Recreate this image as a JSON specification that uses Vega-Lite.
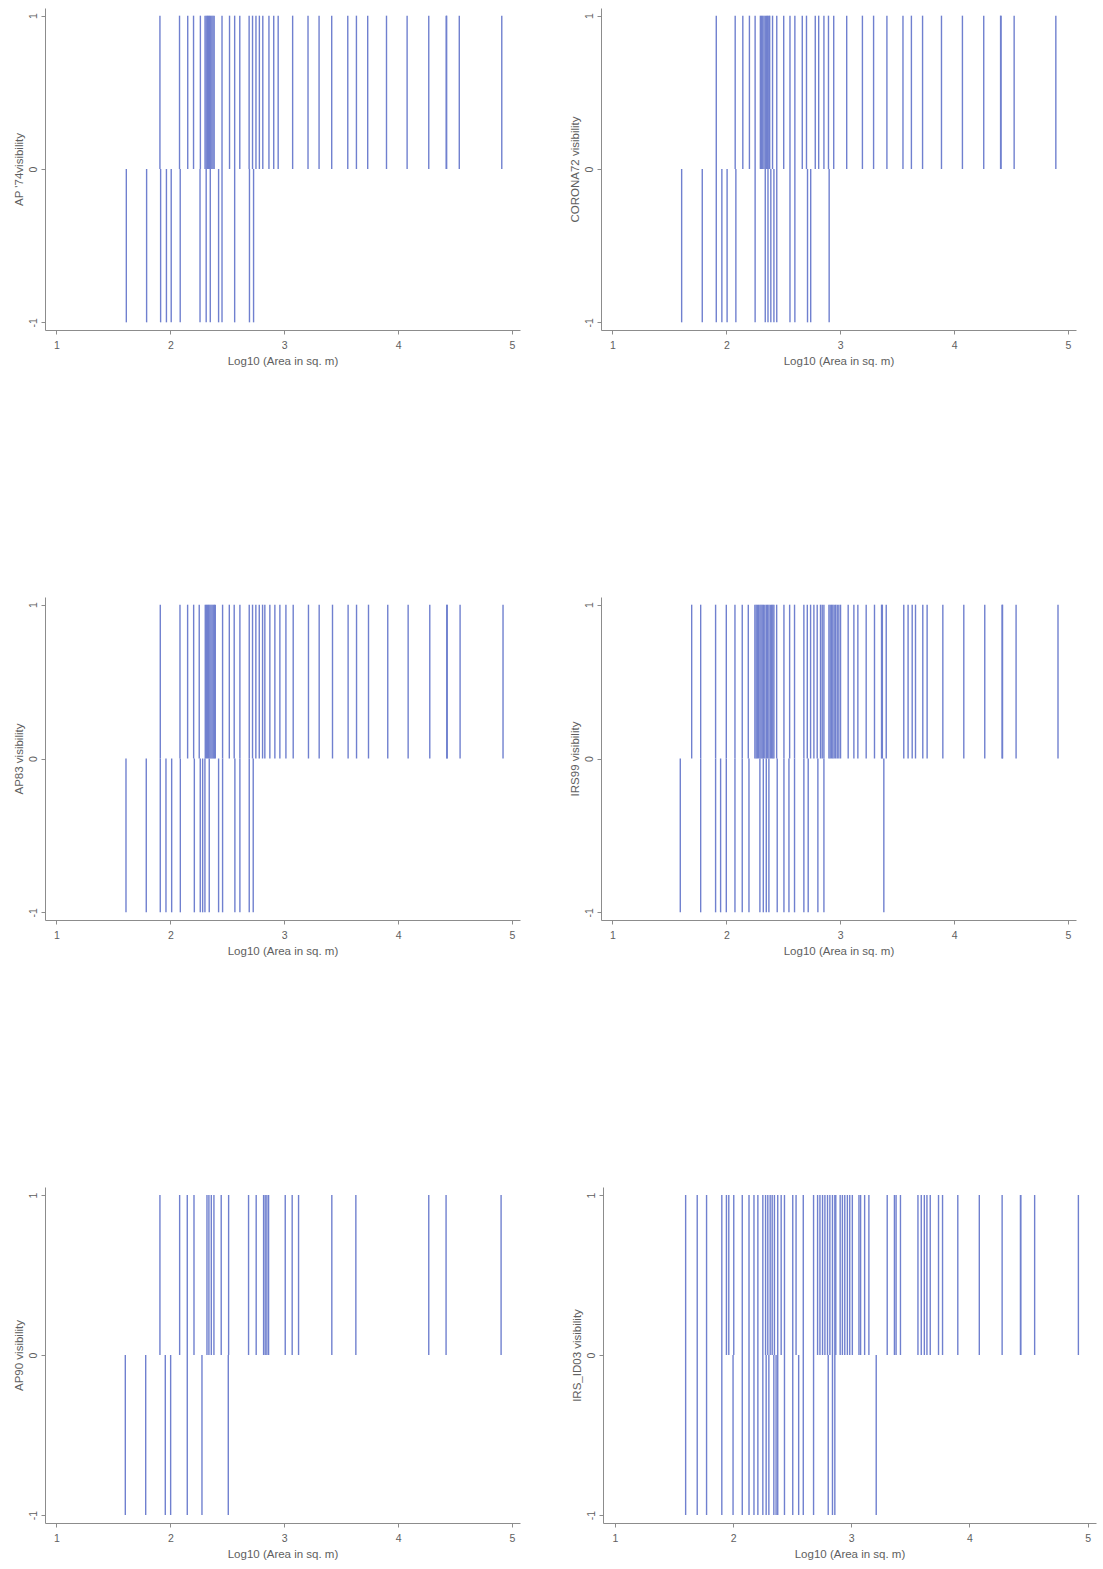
{
  "$schema": "https://vega.github.io/schema/vega-lite/v6.json",
  "background": "white",
  "padding": {"left": 13, "top": 8, "right": 5, "bottom": 5},
  "config": {
    "view": {"stroke": null},
    "axis": {
      "grid": false,
      "domainColor": "#8c8c8c",
      "tickColor": "#8c8c8c",
      "tickSize": 4,
      "labelColor": "#5e5e5e",
      "titleColor": "#5e5e5e",
      "labelFont": "Liberation Sans",
      "titleFont": "Liberation Sans",
      "labelFontSize": 10.5,
      "titleFontSize": 11.5,
      "titleFontWeight": "normal",
      "labelOverlap": false,
      "labelPadding": 3,
      "titlePadding": 4
    },
    "axisX": {"labelPadding": 6, "titlePadding": 5},
    "axisY": {"labelAngle": -90, "labelAlign": "center", "labelBaseline": "bottom", "labelOverlap": false},
    "rule": {"color": "#7080cf", "strokeWidth": 1.4}
  },
  "datasets": {
    "ap74": [
      {"x":1.909,"v":1},{"x":2.081,"v":1},{"x":2.153,"v":1},{"x":2.204,"v":1},{"x":2.264,"v":1},
      {"x":2.305,"v":1},{"x":2.315,"v":1},{"x":2.325,"v":1},{"x":2.335,"v":1},{"x":2.345,"v":1},{"x":2.355,"v":1},{"x":2.365,"v":1},{"x":2.375,"v":1},{"x":2.385,"v":1},
      {"x":2.454,"v":1},{"x":2.520,"v":1},{"x":2.565,"v":1},{"x":2.610,"v":1},{"x":2.692,"v":1},{"x":2.722,"v":1},{"x":2.752,"v":1},{"x":2.782,"v":1},{"x":2.812,"v":1},{"x":2.866,"v":1},{"x":2.908,"v":1},{"x":2.947,"v":1},
      {"x":3.074,"v":1},{"x":3.209,"v":1},{"x":3.306,"v":1},{"x":3.417,"v":1},{"x":3.558,"v":1},{"x":3.634,"v":1},{"x":3.733,"v":1},{"x":3.898,"v":1},{"x":4.079,"v":1},{"x":4.269,"v":1},{"x":4.422,"v":1},{"x":4.426,"v":1},{"x":4.537,"v":1},{"x":4.910,"v":1},
      {"x":1.614,"v":-1},{"x":1.792,"v":-1},{"x":1.915,"v":-1},{"x":1.966,"v":-1},{"x":2.008,"v":-1},{"x":2.087,"v":-1},{"x":2.261,"v":-1},{"x":2.315,"v":-1},{"x":2.351,"v":-1},{"x":2.424,"v":-1},{"x":2.454,"v":-1},{"x":2.565,"v":-1},{"x":2.695,"v":-1},{"x":2.731,"v":-1}
    ],
    "corona72": [
      {"x":1.912,"v":1},{"x":2.078,"v":1},{"x":2.145,"v":1},{"x":2.203,"v":1},{"x":2.253,"v":1},
      {"x":2.299,"v":1},{"x":2.310,"v":1},{"x":2.320,"v":1},{"x":2.331,"v":1},{"x":2.342,"v":1},{"x":2.353,"v":1},{"x":2.363,"v":1},{"x":2.373,"v":1},{"x":2.381,"v":1},
      {"x":2.406,"v":1},{"x":2.443,"v":1},{"x":2.504,"v":1},{"x":2.559,"v":1},{"x":2.602,"v":1},{"x":2.667,"v":1},{"x":2.704,"v":1},{"x":2.781,"v":1},{"x":2.811,"v":1},{"x":2.857,"v":1},{"x":2.897,"v":1},{"x":2.943,"v":1},
      {"x":3.057,"v":1},{"x":3.195,"v":1},{"x":3.293,"v":1},{"x":3.410,"v":1},{"x":3.551,"v":1},{"x":3.625,"v":1},{"x":3.723,"v":1},{"x":3.889,"v":1},{"x":4.073,"v":1},{"x":4.260,"v":1},{"x":4.408,"v":1},{"x":4.412,"v":1},{"x":4.527,"v":1},{"x":4.893,"v":1},
      {"x":1.608,"v":-1},{"x":1.789,"v":-1},{"x":1.912,"v":-1},{"x":1.961,"v":-1},{"x":2.007,"v":-1},{"x":2.084,"v":-1},{"x":2.253,"v":-1},{"x":2.342,"v":-1},{"x":2.366,"v":-1},{"x":2.391,"v":-1},{"x":2.418,"v":-1},{"x":2.443,"v":-1},{"x":2.559,"v":-1},{"x":2.602,"v":-1},{"x":2.713,"v":-1},{"x":2.741,"v":-1},{"x":2.903,"v":-1}
    ],
    "ap83": [
      {"x":1.912,"v":1},{"x":2.085,"v":1},{"x":2.152,"v":1},{"x":2.205,"v":1},{"x":2.254,"v":1},
      {"x":2.307,"v":1},{"x":2.317,"v":1},{"x":2.327,"v":1},{"x":2.337,"v":1},{"x":2.347,"v":1},{"x":2.357,"v":1},{"x":2.367,"v":1},{"x":2.377,"v":1},{"x":2.387,"v":1},{"x":2.395,"v":1},
      {"x":2.459,"v":1},{"x":2.518,"v":1},{"x":2.561,"v":1},{"x":2.611,"v":1},{"x":2.693,"v":1},{"x":2.722,"v":1},{"x":2.751,"v":1},{"x":2.781,"v":1},{"x":2.810,"v":1},{"x":2.830,"v":1},{"x":2.874,"v":1},{"x":2.918,"v":1},{"x":2.962,"v":1},
      {"x":3.015,"v":1},{"x":3.079,"v":1},{"x":3.213,"v":1},{"x":3.307,"v":1},{"x":3.424,"v":1},{"x":3.561,"v":1},{"x":3.635,"v":1},{"x":3.740,"v":1},{"x":3.909,"v":1},{"x":4.088,"v":1},{"x":4.278,"v":1},{"x":4.427,"v":1},{"x":4.431,"v":1},{"x":4.544,"v":1},{"x":4.921,"v":1},
      {"x":1.611,"v":-1},{"x":1.789,"v":-1},{"x":1.912,"v":-1},{"x":1.962,"v":-1},{"x":2.012,"v":-1},{"x":2.088,"v":-1},{"x":2.211,"v":-1},{"x":2.263,"v":-1},{"x":2.284,"v":-1},{"x":2.304,"v":-1},{"x":2.342,"v":-1},{"x":2.424,"v":-1},{"x":2.459,"v":-1},{"x":2.567,"v":-1},{"x":2.611,"v":-1},{"x":2.693,"v":-1},{"x":2.728,"v":-1}
    ],
    "irs99": [
      {"x":1.696,"v":1},{"x":1.775,"v":1},{"x":1.906,"v":1},{"x":2.000,"v":1},{"x":2.076,"v":1},{"x":2.140,"v":1},{"x":2.193,"v":1},
      {"x":2.251,"v":1},{"x":2.262,"v":1},{"x":2.272,"v":1},{"x":2.283,"v":1},{"x":2.295,"v":1},{"x":2.305,"v":1},{"x":2.315,"v":1},{"x":2.325,"v":1},{"x":2.338,"v":1},{"x":2.351,"v":1},{"x":2.362,"v":1},{"x":2.374,"v":1},{"x":2.386,"v":1},{"x":2.398,"v":1},{"x":2.408,"v":1},{"x":2.418,"v":1},
      {"x":2.442,"v":1},{"x":2.506,"v":1},{"x":2.556,"v":1},{"x":2.599,"v":1},{"x":2.681,"v":1},{"x":2.711,"v":1},{"x":2.740,"v":1},{"x":2.769,"v":1},{"x":2.798,"v":1},{"x":2.827,"v":1},{"x":2.842,"v":1},{"x":2.857,"v":1},
      {"x":2.901,"v":1},{"x":2.912,"v":1},{"x":2.924,"v":1},{"x":2.935,"v":1},{"x":2.947,"v":1},{"x":2.960,"v":1},{"x":2.974,"v":1},{"x":2.988,"v":1},{"x":3.003,"v":1},
      {"x":3.070,"v":1},{"x":3.120,"v":1},{"x":3.155,"v":1},{"x":3.228,"v":1},{"x":3.301,"v":1},{"x":3.363,"v":1},{"x":3.370,"v":1},{"x":3.404,"v":1},{"x":3.558,"v":1},{"x":3.596,"v":1},{"x":3.632,"v":1},{"x":3.661,"v":1},{"x":3.725,"v":1},{"x":3.763,"v":1},{"x":3.901,"v":1},{"x":4.085,"v":1},{"x":4.269,"v":1},{"x":4.421,"v":1},{"x":4.425,"v":1},{"x":4.544,"v":1},{"x":4.912,"v":1},
      {"x":1.596,"v":-1},{"x":1.775,"v":-1},{"x":1.906,"v":-1},{"x":1.950,"v":-1},{"x":2.000,"v":-1},{"x":2.076,"v":-1},{"x":2.140,"v":-1},{"x":2.199,"v":-1},{"x":2.295,"v":-1},{"x":2.325,"v":-1},{"x":2.351,"v":-1},{"x":2.374,"v":-1},{"x":2.447,"v":-1},{"x":2.506,"v":-1},{"x":2.550,"v":-1},{"x":2.599,"v":-1},{"x":2.681,"v":-1},{"x":2.719,"v":-1},{"x":2.804,"v":-1},{"x":2.857,"v":-1},{"x":3.383,"v":-1}
    ],
    "ap90": [
      {"x":1.909,"v":1},{"x":2.082,"v":1},{"x":2.149,"v":1},{"x":2.208,"v":1},{"x":2.322,"v":1},{"x":2.339,"v":1},{"x":2.360,"v":1},{"x":2.383,"v":1},{"x":2.447,"v":1},{"x":2.512,"v":1},
      {"x":2.687,"v":1},{"x":2.754,"v":1},{"x":2.819,"v":1},{"x":2.833,"v":1},{"x":2.848,"v":1},{"x":2.863,"v":1},{"x":3.009,"v":1},{"x":3.070,"v":1},{"x":3.126,"v":1},{"x":3.418,"v":1},{"x":3.629,"v":1},{"x":4.269,"v":1},{"x":4.421,"v":1},{"x":4.904,"v":1},
      {"x":1.605,"v":-1},{"x":1.784,"v":-1},{"x":1.956,"v":-1},{"x":2.003,"v":-1},{"x":2.149,"v":-1},{"x":2.278,"v":-1},{"x":2.509,"v":-1}
    ],
    "irsid03": [
      {"x":1.599,"v":1},{"x":1.697,"v":1},{"x":1.776,"v":1},{"x":1.905,"v":1},{"x":1.944,"v":1},{"x":1.964,"v":1},{"x":2.006,"v":1},{"x":2.078,"v":1},{"x":2.135,"v":1},{"x":2.177,"v":1},{"x":2.210,"v":1},
      {"x":2.252,"v":1},{"x":2.275,"v":1},{"x":2.294,"v":1},{"x":2.314,"v":1},{"x":2.331,"v":1},{"x":2.350,"v":1},{"x":2.378,"v":1},{"x":2.407,"v":1},{"x":2.435,"v":1},{"x":2.505,"v":1},{"x":2.533,"v":1},{"x":2.594,"v":1},
      {"x":2.681,"v":1},{"x":2.715,"v":1},{"x":2.735,"v":1},{"x":2.757,"v":1},{"x":2.777,"v":1},{"x":2.799,"v":1},{"x":2.819,"v":1},{"x":2.841,"v":1},{"x":2.861,"v":1},{"x":2.869,"v":1},
      {"x":2.906,"v":1},{"x":2.925,"v":1},{"x":2.945,"v":1},{"x":2.967,"v":1},{"x":2.987,"v":1},{"x":3.009,"v":1},{"x":3.065,"v":1},{"x":3.079,"v":1},{"x":3.113,"v":1},{"x":3.149,"v":1},
      {"x":3.304,"v":1},{"x":3.365,"v":1},{"x":3.379,"v":1},{"x":3.416,"v":1},{"x":3.564,"v":1},{"x":3.592,"v":1},{"x":3.618,"v":1},{"x":3.640,"v":1},{"x":3.668,"v":1},{"x":3.738,"v":1},{"x":3.772,"v":1},{"x":3.901,"v":1},{"x":4.083,"v":1},{"x":4.276,"v":1},{"x":4.431,"v":1},{"x":4.434,"v":1},{"x":4.551,"v":1},{"x":4.921,"v":1},
      {"x":1.599,"v":-1},{"x":1.697,"v":-1},{"x":1.776,"v":-1},{"x":1.905,"v":-1},{"x":2.000,"v":-1},{"x":2.078,"v":-1},{"x":2.135,"v":-1},{"x":2.177,"v":-1},{"x":2.210,"v":-1},{"x":2.252,"v":-1},{"x":2.280,"v":-1},{"x":2.303,"v":-1},{"x":2.345,"v":-1},{"x":2.364,"v":-1},{"x":2.378,"v":-1},{"x":2.435,"v":-1},{"x":2.505,"v":-1},{"x":2.555,"v":-1},{"x":2.594,"v":-1},{"x":2.681,"v":-1},{"x":2.805,"v":-1},{"x":2.841,"v":-1},{"x":2.861,"v":-1},{"x":3.211,"v":-1}
    ]
  },
  "spacing": 230,
  "vconcat": [
    {
      "spacing": 49,
      "hconcat": [
        {"width": 475, "height": 322, "data": {"name": "ap74"}, "mark": "rule",
         "encoding": {
           "x": {"field": "x", "type": "quantitative", "scale": {"domain": [0.9, 5.07], "nice": false, "zero": false}, "axis": {"values": [1,2,3,4,5], "format": "d", "title": "Log10 (Area in sq. m)"}},
           "y": {"field": "v", "type": "quantitative", "scale": {"domain": [-1.05, 1.05], "nice": false, "zero": false}, "axis": {"values": [-1,0,1], "labelExpr": "'' + datum.value", "labelOverlap": false, "title": "AP '74visibility"}},
           "y2": {"datum": 0}}},
        {"width": 475, "height": 322, "data": {"name": "corona72"}, "mark": "rule",
         "encoding": {
           "x": {"field": "x", "type": "quantitative", "scale": {"domain": [0.9, 5.07], "nice": false, "zero": false}, "axis": {"values": [1,2,3,4,5], "format": "d", "title": "Log10 (Area in sq. m)"}},
           "y": {"field": "v", "type": "quantitative", "scale": {"domain": [-1.05, 1.05], "nice": false, "zero": false}, "axis": {"values": [-1,0,1], "labelExpr": "'' + datum.value", "labelOverlap": false, "title": "CORONA72 visibility"}},
           "y2": {"datum": 0}}}
      ]
    },
    {
      "spacing": 49,
      "hconcat": [
        {"width": 475, "height": 323, "data": {"name": "ap83"}, "mark": "rule",
         "encoding": {
           "x": {"field": "x", "type": "quantitative", "scale": {"domain": [0.9, 5.07], "nice": false, "zero": false}, "axis": {"values": [1,2,3,4,5], "format": "d", "title": "Log10 (Area in sq. m)"}},
           "y": {"field": "v", "type": "quantitative", "scale": {"domain": [-1.05, 1.05], "nice": false, "zero": false}, "axis": {"values": [-1,0,1], "labelExpr": "'' + datum.value", "labelOverlap": false, "title": "AP83 visibility"}},
           "y2": {"datum": 0}}},
        {"width": 475, "height": 323, "data": {"name": "irs99"}, "mark": "rule",
         "encoding": {
           "x": {"field": "x", "type": "quantitative", "scale": {"domain": [0.9, 5.07], "nice": false, "zero": false}, "axis": {"values": [1,2,3,4,5], "format": "d", "title": "Log10 (Area in sq. m)"}},
           "y": {"field": "v", "type": "quantitative", "scale": {"domain": [-1.05, 1.05], "nice": false, "zero": false}, "axis": {"values": [-1,0,1], "labelExpr": "'' + datum.value", "labelOverlap": false, "title": "IRS99 visibility"}},
           "y2": {"datum": 0}}}
      ]
    },
    {
      "spacing": 51,
      "hconcat": [
        {"width": 475, "height": 336, "data": {"name": "ap90"}, "mark": "rule",
         "encoding": {
           "x": {"field": "x", "type": "quantitative", "scale": {"domain": [0.9, 5.07], "nice": false, "zero": false}, "axis": {"values": [1,2,3,4,5], "format": "d", "title": "Log10 (Area in sq. m)"}},
           "y": {"field": "v", "type": "quantitative", "scale": {"domain": [-1.05, 1.05], "nice": false, "zero": false}, "axis": {"values": [-1,0,1], "labelExpr": "'' + datum.value", "labelOverlap": false, "title": "AP90 visibility"}},
           "y2": {"datum": 0}}},
        {"width": 493, "height": 336, "data": {"name": "irsid03"}, "mark": "rule",
         "encoding": {
           "x": {"field": "x", "type": "quantitative", "scale": {"domain": [0.9, 5.07], "nice": false, "zero": false}, "axis": {"values": [1,2,3,4,5], "format": "d", "title": "Log10 (Area in sq. m)"}},
           "y": {"field": "v", "type": "quantitative", "scale": {"domain": [-1.05, 1.05], "nice": false, "zero": false}, "axis": {"values": [-1,0,1], "labelExpr": "'' + datum.value", "labelOverlap": false, "title": "IRS_ID03 visibility"}},
           "y2": {"datum": 0}}}
      ]
    }
  ]
}
